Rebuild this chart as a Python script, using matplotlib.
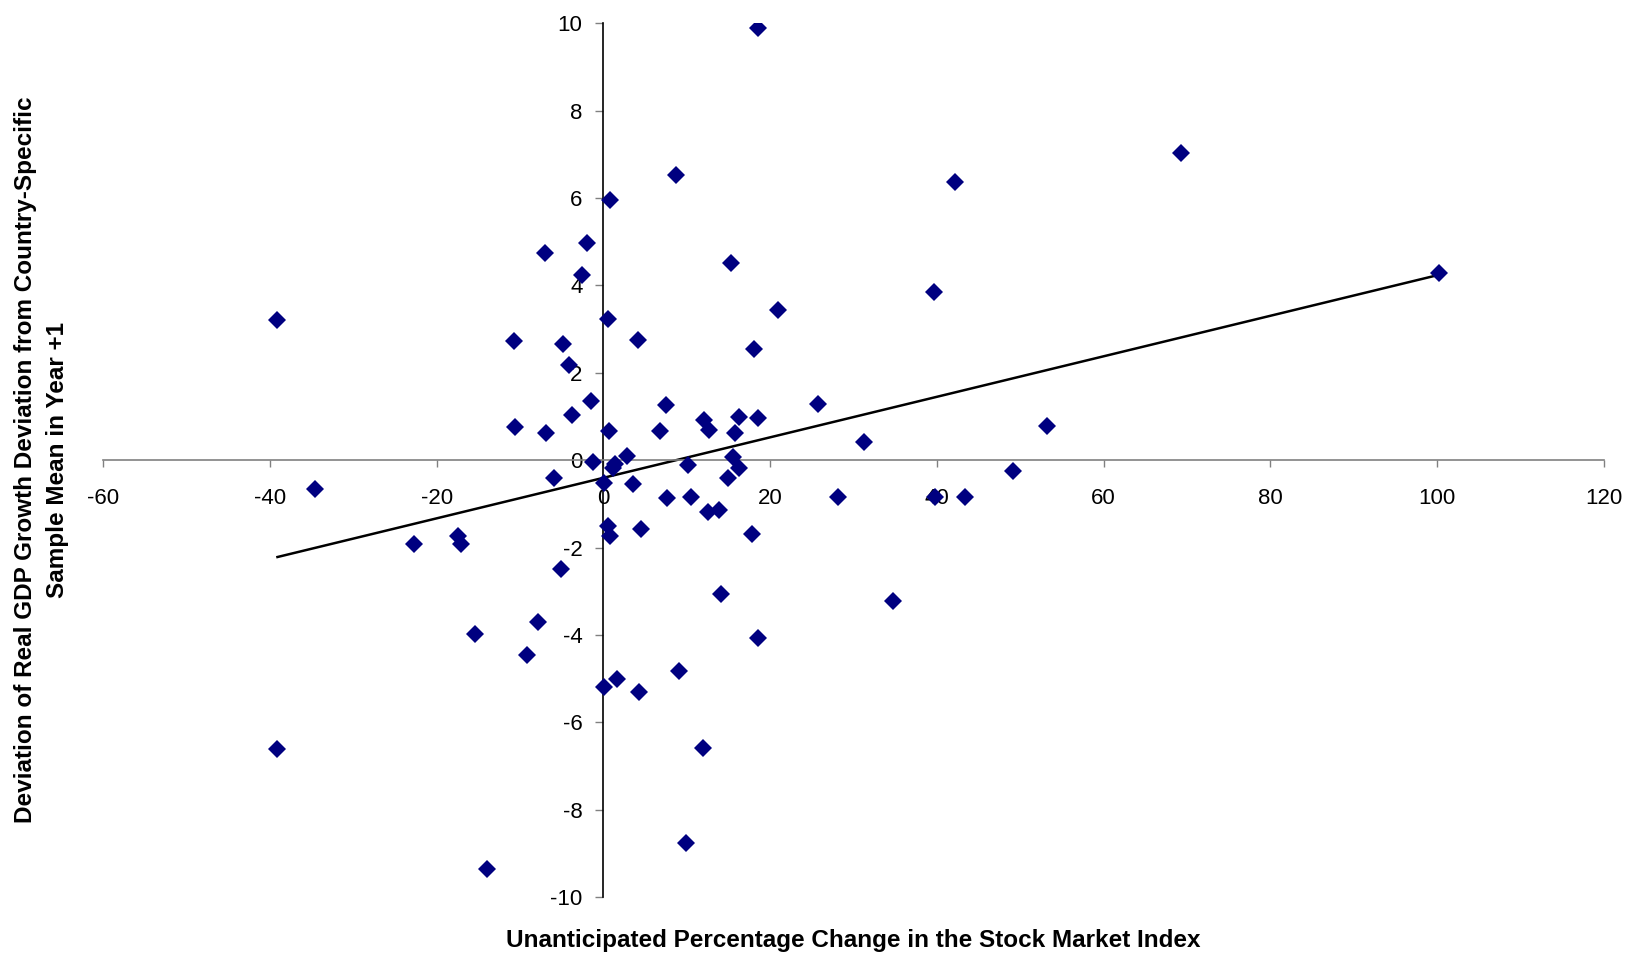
import numpy as np
import matplotlib
matplotlib.use("Agg")
import matplotlib.pyplot as plt

# Unanticipated % change in stock index vs. GDP growth deviation (year +1)
stock_change = [18.5, 69.3, 42.2, 8.7, 0.8, -7.0, -2.0, -2.6, 15.3, 100.2,
                39.7, -39.1, 0.56, 21.0, -10.7, 4.16, -4.84, 18.1, -4.15, -1.5,
                7.56, 25.8, -3.8, -10.6, -6.84, 0.72, 6.77, 12.08, 12.7, 16.3,
                15.8, 18.5, 53.2, 31.2, 15.6, -1.2, 2.8, 1.4, 1.2, -5.9,
                0.1, 3.5, 10.2, 16.3, 14.9, 49.1, -34.6, 7.6, 10.5, 28.2,
                39.8, 43.4, 12.5, 13.9, 0.6, 0.8, 4.5, 17.8, -17.5, -17.1,
                -22.7, -5.1, 14.1, 34.7, -7.9, -15.4, 18.6, -9.2, 9.1, 1.6,
                0.1, 4.3, 11.9, -39.1, 9.9, -14.0]
gdp_dev = [9.9, 7.03, 6.36, 6.53, 5.95, 4.75, 4.97, 4.23, 4.52, 4.29,
           3.84, 3.20, 3.23, 3.43, 2.72, 2.76, 2.65, 2.54, 2.17, 1.36,
           1.27, 1.28, 1.03, 0.76, 0.61, 0.66, 0.66, 0.92, 0.69, 0.99,
           0.61, 0.96, 0.79, 0.42, 0.08, -0.04, 0.10, -0.08, -0.19, -0.40,
           -0.52, -0.54, -0.11, -0.17, -0.41, -0.25, -0.65, -0.86, -0.84, -0.85,
           -0.84, -0.84, -1.18, -1.14, -1.50, -1.74, -1.57, -1.69, -1.73, -1.93,
           -1.93, -2.49, -3.07, -3.23, -3.71, -3.99, -4.06, -4.47, -4.83, -5.02,
           -5.19, -5.30, -6.58, -6.62, -8.77, -9.35]

x_ticks = np.arange(-60, 121, 20)
y_ticks = np.arange(-10, 11, 2)

plt.rcParams['font.family'] = ['Liberation Sans', 'DejaVu Sans']
plt.rcParams['axes.unicode_minus'] = False

fig = plt.figure(figsize=(16.31, 9.56), dpi=100)
ax = fig.add_axes([0.0633, 0.0617, 0.920, 0.914])

x = np.array(stock_change)
y = np.array(gdp_dev)

# linear trendline
slope, intercept = np.polyfit(x, y, 1)
xl = np.array([x.min(), x.max()])
ax.plot(xl, slope * xl + intercept, color='black', lw=1.8, zorder=2)

ax.plot(x, y, 'D', color='#000080', markersize=9.5, markeredgewidth=0, zorder=3)

ax.set_xlim(-60, 120)
ax.set_ylim(-10, 10)
ax.set_xticks(x_ticks)
ax.set_yticks(y_ticks)

ax.spines['left'].set_position(('data', 0))
ax.spines['bottom'].set_position(('data', 0))
ax.spines['right'].set_visible(False)
ax.spines['top'].set_visible(False)
ax.spines['left'].set_color('black')
ax.spines['left'].set_linewidth(1.2)
ax.spines['bottom'].set_color('#808080')
ax.spines['bottom'].set_linewidth(1.2)

ax.tick_params(axis='x', direction='out', length=5, width=1, color='#808080',
               labelsize=16, pad=15)
ax.tick_params(axis='y', direction='out', length=6, width=1, color='#808080',
               labelsize=16, pad=9)

fig.text(0.523, 0.004, 'Unanticipated Percentage Change in the Stock Market Index',
         ha='center', va='bottom', fontsize=17.5, fontweight='bold')
fig.text(0.0255, 0.519,
         'Deviation of Real GDP Growth Deviation from Country-Specific\nSample Mean in Year +1',
         ha='center', va='center', rotation=90, fontsize=17.5, fontweight='bold',
         linespacing=1.5)

fig.savefig('out.png', dpi=100)
